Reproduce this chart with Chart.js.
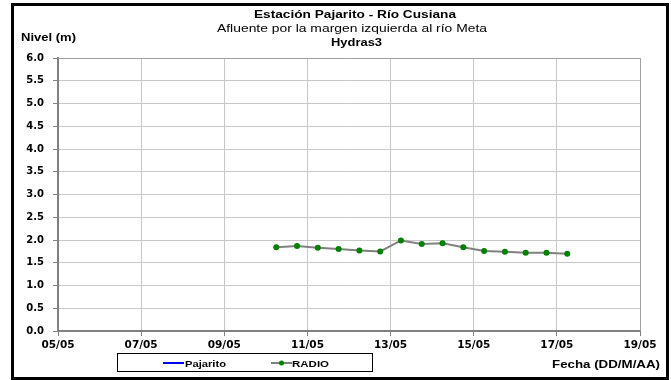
<!DOCTYPE html>
<html>
<head>
<meta charset="utf-8">
<script src="https://cdn.jsdelivr.net/npm/chart.js@4/dist/chart.umd.min.js"></script>
<style>
  html, body { margin: 0; padding: 0; background: #fff; }
  #wrap { width: 671px; height: 380px; }
</style>
</head>
<body>
<div id="wrap"><canvas id="myChart" width="671" height="380"></canvas></div>
<script>
// Días del mes de mayo (x en días, 05/05 a 19/05)
const xTicks = [5, 7, 9, 11, 13, 15, 17, 19];
// RADIO: lecturas cada 12 horas (06:00 y 18:00)
const radioDias = [10.25, 10.75, 11.25, 11.75, 12.25, 12.75, 13.25, 13.75, 14.25, 14.75, 15.25, 15.75, 16.25, 16.75, 17.25];
const radioNivel = [1.84, 1.87, 1.83, 1.80, 1.77, 1.75, 1.99, 1.91, 1.93, 1.84, 1.76, 1.74, 1.72, 1.72, 1.70];
// Pajarito: sin datos en el periodo
const pajaritoDias = [];
const pajaritoNivel = [];

const FONT = 'Arial, "Liberation Sans", sans-serif';
const TICKFONT = '"DejaVu Sans", sans-serif';

// texto estirado horizontalmente hasta un ancho dado (como en el original)
function stretchText(c, txt, font, left, width, y) {
    c.save();
    c.font = font;
    const w = c.measureText(txt).width;
    c.translate(left, y);
    c.scale(width / w, 1);
    c.textAlign = 'left';
    c.textBaseline = 'middle';
    c.fillText(txt, 0, 0);
    c.restore();
}

const decor = {
    id: 'decor',
    beforeDraw(chart) {
        const c = chart.ctx;
        c.save();
        c.fillStyle = '#fff';
        c.fillRect(0, 0, chart.width, chart.height);
        c.restore();
    },
    afterDraw(chart) {
        const c = chart.ctx;
        const a = chart.chartArea;
        c.save();
        // borde superior y derecho del área de trazado
        c.strokeStyle = '#a0a0a0';
        c.lineWidth = 1;
        c.beginPath();
        c.moveTo(a.left, a.top + 0.5);
        c.lineTo(a.right + 0.5, a.top + 0.5);
        c.lineTo(a.right + 0.5, a.bottom);
        c.stroke();

        // títulos
        c.fillStyle = '#000';
        stretchText(c, 'Estación Pajarito - Río Cusiana', 'bold 10.5px ' + FONT, 254, 202, 15);
        stretchText(c, 'Afluente por la margen izquierda al río Meta', '10.5px ' + FONT, 217, 270, 29);
        stretchText(c, 'Hydras3', 'bold 10.5px ' + FONT, 331, 51, 43);
        stretchText(c, 'Nivel (m)', 'bold 10.5px ' + FONT, 21, 55, 38);
        stretchText(c, 'Fecha (DD/M/AA)', 'bold 10.5px ' + FONT, 552, 108, 365);

        // leyenda
        c.strokeStyle = '#000';
        c.lineWidth = 1;
        c.strokeRect(117.5, 353.5, 255, 18);
        c.strokeStyle = '#0000ff';
        c.lineWidth = 2;
        c.beginPath(); c.moveTo(163, 363); c.lineTo(184, 363); c.stroke();
        c.strokeStyle = '#808080';
        c.beginPath(); c.moveTo(271, 363); c.lineTo(292, 363); c.stroke();
        c.fillStyle = '#008000';
        c.beginPath(); c.arc(281.5, 363, 2.5, 0, Math.PI * 2); c.fill();
        c.fillStyle = '#000';
        stretchText(c, 'Pajarito', 'bold 9.5px ' + FONT, 185, 41, 364);
        stretchText(c, 'RADIO', 'bold 9.5px ' + FONT, 292, 37, 364);

        // marco exterior
        c.strokeStyle = '#000';
        c.lineWidth = 3;
        c.strokeRect(12.5, 4.5, 655, 374);
        c.restore();
    }
};

const config = {
    type: 'line',
    data: {
        datasets: [{
            label: 'Pajarito',
            data: pajaritoDias.map((d, i) => ({ x: d, y: pajaritoNivel[i] })),
            borderColor: '#0000ff',
            borderWidth: 2,
            pointRadius: 0
        }, {
            label: 'RADIO',
            data: radioDias.map((d, i) => ({ x: d, y: radioNivel[i] })),
            borderColor: '#808080',
            borderWidth: 2,
            pointRadius: 3,
            pointBackgroundColor: '#008000',
            pointBorderColor: '#008000',
            pointBorderWidth: 0,
            tension: 0
        }]
    },
    options: {
        responsive: false,
        animation: false,
        layout: { padding: { left: 0, top: 58, right: 31, bottom: 0 } },
        plugins: {
            legend: { display: false },
            tooltip: { enabled: false }
        },
        scales: {
            x: {
                type: 'linear',
                min: 5,
                max: 19,
                afterBuildTicks: function(scale) {
                    scale.ticks = xTicks.map(v => ({ value: v }));
                },
                afterFit: function(scale) { scale.height = 49; },
                ticks: {
                    color: '#000',
                    font: { family: TICKFONT, size: 10.5, weight: 'bold' },
                    padding: 3,
                    maxRotation: 0,
                    callback: v => String(v).padStart(2, '0') + '/05'
                },
                grid: { color: '#c8c8c8', lineWidth: 1, tickLength: 5, tickColor: '#808080' },
                border: { color: '#808080', width: 2 }
            },
            y: {
                min: 0,
                max: 6,
                afterFit: function(scale) { scale.width = 58; },
                ticks: {
                    stepSize: 0.5,
                    color: '#000',
                    font: { family: TICKFONT, size: 10, weight: 'bold' },
                    padding: 9,
                    callback: v => v.toFixed(1)
                },
                grid: { color: '#c8c8c8', lineWidth: 1, tickLength: 5, tickColor: '#808080' },
                border: { color: '#808080', width: 2 }
            }
        }
    },
    plugins: [decor]
};

const ctx = document.getElementById('myChart').getContext('2d');
new Chart(ctx, config);
</script>
</body>
</html>
